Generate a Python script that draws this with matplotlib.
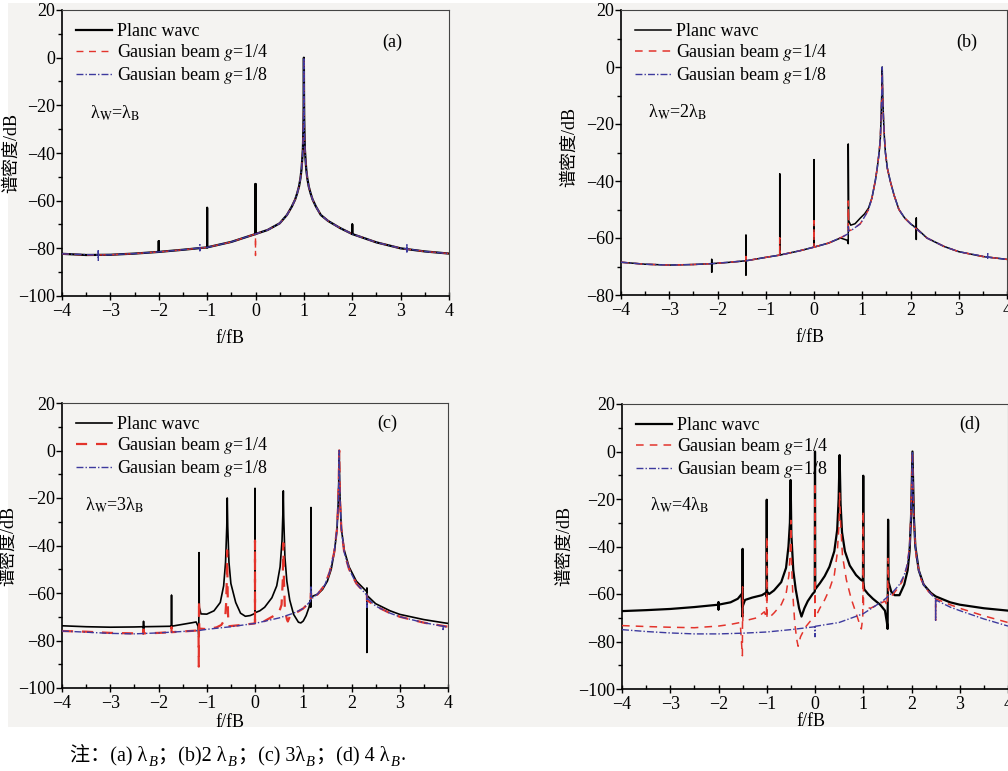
import matplotlib.pyplot as plt
import numpy as np
from matplotlib.patches import Rectangle
from matplotlib.ticker import MultipleLocator

plt.rcParams['font.family'] = ['Liberation Serif', 'Noto Sans CJK SC']
plt.rcParams['mathtext.fontset'] = 'stix'

# ---------------- data (x = f/fB, y = dB) ----------------
# (a) lambda_w = lambda_B
a_plane = [(-4, -82.3), (-3.5, -82.8), (-3, -82.7), (-2.5, -82.2), (-2, -81.5), (-2, -77), (-2, -81.5),
           (-1.5, -80.6), (-1, -79.6), (-1, -63), (-1, -79.6), (-0.5, -77.3), (0, -74), (0, -53), (0, -74),
           (0.25, -72.3), (0.5, -69.5), (0.65, -66), (0.75, -62.5), (0.82, -59.5), (0.86, -57), (0.9, -54),
           (0.93, -50.5), (0.95, -47), (0.965, -43), (0.98, -38), (0.988, -31), (0.993, -25), (0.997, -15),
           (1.0, 0), (1.003, -15), (1.007, -25), (1.012, -31), (1.02, -38), (1.035, -43), (1.05, -47),
           (1.07, -50.5), (1.1, -54), (1.14, -57), (1.18, -59.5), (1.25, -62.5), (1.35, -66), (1.5, -68.5),
           (1.75, -71.5), (2, -74), (2, -70), (2, -74), (2.5, -77.5), (3, -80), (3.5, -81.3), (4, -82.2)]
a_g4 = [(-4, -82.3), (-3.5, -82.8), (-3, -82.7), (-2.5, -82.2), (-2, -81.5), (-1.5, -80.6), (-1, -79.6),
        (-0.5, -77.3), (0, -74), (0, -83), (0, -74), (0.25, -72.3), (0.5, -69.5), (0.65, -66), (0.75, -62.5),
        (0.82, -59.5), (0.86, -57), (0.9, -54), (0.93, -50.5), (0.95, -47), (0.965, -43), (0.98, -38),
        (0.988, -31), (0.993, -25), (0.997, -15), (1.0, 0), (1.003, -15), (1.007, -25), (1.012, -31),
        (1.02, -38), (1.035, -43), (1.05, -47), (1.07, -50.5), (1.1, -54), (1.14, -57), (1.18, -59.5),
        (1.25, -62.5), (1.35, -66), (1.5, -68.5), (1.75, -71.5), (2, -74), (2.5, -77.5), (3, -80),
        (3.5, -81.3), (4, -82.2)]
a_g8 = [(-4, -82.3), (-3.25, -82.8), (-3.25, -81), (-3.25, -85), (-3.25, -82.8), (-3, -82.7), (-2.5, -82.2),
        (-2, -81.5), (-1.5, -80.6), (-1.15, -79.8), (-1.15, -78.5), (-1.15, -81), (-1.15, -79.8), (-1, -79.6),
        (-0.5, -77.3), (0, -74), (0.25, -72.3), (0.5, -69.5), (0.65, -66), (0.75, -62.5), (0.82, -59.5),
        (0.86, -57), (0.9, -54), (0.93, -50.5), (0.95, -47), (0.965, -43), (0.98, -38), (0.988, -31),
        (0.993, -25), (0.997, -15), (1.0, 0), (1.003, -15), (1.007, -25), (1.012, -31), (1.02, -38),
        (1.035, -43), (1.05, -47), (1.07, -50.5), (1.1, -54), (1.14, -57), (1.18, -59.5), (1.25, -62.5),
        (1.35, -66), (1.5, -68.5), (1.75, -71.5), (2, -74), (2.5, -77.5), (3, -80), (3.13, -80.2),
        (3.13, -78), (3.13, -81.5), (3.13, -80.2), (3.5, -81.3), (4, -82.2)]

# (b) lambda_w = 2 lambda_B
b_plane = [(-4, -68.5), (-3.5, -69.2), (-3, -69.5), (-2.5, -69.3), (-2.12, -69.0), (-2.12, -67.5),
           (-2.12, -72), (-2.12, -69.0), (-1.8, -68.6), (-1.41, -68), (-1.41, -59), (-1.41, -73),
           (-1.41, -68), (-1.0, -66.8), (-0.71, -66), (-0.71, -37.5), (-0.71, -66), (-0.3, -64.5),
           (0, -63.2), (0, -32.5), (0, -63.2), (0.3, -61.8), (0.55, -60), (0.69, -60.8), (0.71, -62),
           (0.71, -27), (0.72, -54), (0.76, -55.5), (0.85, -55), (0.96, -53), (1.05, -51.5), (1.13, -49.5),
           (1.2, -46), (1.27, -40), (1.31, -35.5), (1.35, -30), (1.375, -25), (1.39, -18), (1.405, -9),
           (1.414, 0), (1.423, -9), (1.44, -18), (1.46, -25), (1.48, -30), (1.52, -35.5), (1.58, -40),
           (1.66, -45), (1.76, -50), (1.88, -53), (2.0, -55), (2.12, -56.5), (2.12, -53), (2.12, -60.5),
           (2.12, -56.5), (2.34, -60), (2.7, -63), (3, -64.8), (3.5, -66.5), (4, -67.5)]
b_g4 = [(-4, -68.5), (-3.5, -69.2), (-3, -69.5), (-2.5, -69.3), (-2.12, -69), (-1.41, -68), (-1.41, -66.5),
        (-1.41, -68), (-1, -66.8), (-0.71, -66), (-0.71, -60), (-0.71, -66), (-0.3, -64.5), (0, -63.2),
        (0, -54), (0, -63.2), (0.3, -61.8), (0.6, -59.5), (0.71, -58.5), (0.71, -47), (0.72, -57.5),
        (0.8, -57), (0.96, -55), (1.05, -52.5), (1.13, -50), (1.2, -46), (1.27, -40), (1.31, -35.5),
        (1.35, -30), (1.375, -25), (1.39, -18), (1.405, -10), (1.414, -3), (1.423, -10), (1.44, -18),
        (1.46, -25), (1.48, -30), (1.52, -35.5), (1.58, -40), (1.66, -45), (1.76, -50), (1.88, -53),
        (2, -55), (2.34, -60), (2.7, -63), (3, -64.8), (3.5, -66.5), (4, -67.5)]
b_g8 = [(-4, -68.5), (-3.5, -69.2), (-3, -69.5), (-2.5, -69.3), (-2.12, -69), (-1.41, -68), (-1, -66.8),
        (-0.71, -66), (-0.3, -64.5), (0, -63.2), (0.3, -61.8), (0.6, -59.5), (0.71, -58.5), (0.71, -56),
        (0.72, -57.5), (0.8, -57), (0.96, -55), (1.05, -52.5), (1.13, -50), (1.2, -46), (1.27, -40),
        (1.31, -35.5), (1.35, -30), (1.375, -25), (1.39, -18), (1.405, -9), (1.414, 0), (1.423, -9),
        (1.44, -18), (1.46, -25), (1.48, -30), (1.52, -35.5), (1.58, -40), (1.66, -45), (1.76, -50),
        (1.88, -53), (2, -55), (2.34, -60), (2.7, -63), (3, -64.8), (3.6, -66.7), (3.6, -65.5),
        (3.6, -67.5), (3.6, -66.7), (4, -67.5)]

# (c) lambda_w = 3 lambda_B
c_plane = [(-4, -73.8), (-3.5, -74.2), (-3, -74.4), (-2.5, -74.3), (-2.31, -74.2), (-2.31, -72),
           (-2.31, -77), (-2.31, -74.2), (-2, -74.1), (-1.73, -74.0), (-1.73, -61), (-1.73, -74.0),
           (-1.5, -73.2), (-1.3, -72.5), (-1.22, -72.2), (-1.18, -74), (-1.165, -78.5), (-1.16, -43),
           (-1.155, -66), (-1.12, -68.8), (-1.0, -68.9), (-0.85, -67.5), (-0.72, -64), (-0.65, -57),
           (-0.61, -47), (-0.585, -32), (-0.575, -20), (-0.565, -32), (-0.54, -47), (-0.5, -56),
           (-0.4, -64), (-0.3, -68.5), (-0.2, -69.8), (-0.1, -69.5), (-0.02, -68.8), (0, -68.5), (0, -16),
           (0, -68.3), (0.1, -67.5), (0.2, -66), (0.35, -62), (0.45, -57), (0.52, -49), (0.56, -38),
           (0.58, -25), (0.587, -17), (0.595, -28), (0.62, -45), (0.66, -55), (0.72, -63), (0.8, -69),
           (0.9, -72.3), (0.95, -72.6), (1.0, -71.8), (1.06, -69.5), (1.12, -66), (1.15, -63),
           (1.155, -66), (1.16, -24), (1.165, -62), (1.2, -61.3), (1.3, -60.5), (1.4, -58.5), (1.5, -55),
           (1.58, -50), (1.65, -42), (1.7, -33), (1.725, -22), (1.737, -12), (1.745, 0), (1.753, -12),
           (1.765, -22), (1.79, -33), (1.85, -42), (1.95, -49), (2.1, -55), (2.32, -59.5), (2.32, -58),
           (2.32, -85), (2.32, -61), (2.5, -64.5), (2.8, -67.5), (3.0, -69), (3.5, -71.2), (3.9, -72.5),
           (4.0, -72.8)]
c_g4 = [(-4, -76), (-3.5, -76.3), (-3, -76.8), (-2.5, -77), (-2.31, -77), (-2.31, -75.5), (-2.31, -77),
        (-2, -76.8), (-1.73, -76.5), (-1.73, -74.5), (-1.73, -76.5), (-1.5, -76.2), (-1.2, -75.8),
        (-1.17, -75.5), (-1.165, -91), (-1.16, -63), (-1.155, -75), (-1.0, -75.2), (-0.8, -74.5),
        (-0.7, -73.5), (-0.62, -71), (-0.6, -65), (-0.585, -55), (-0.578, -42), (-0.57, -55), (-0.56, -68),
        (-0.55, -74), (-0.3, -73.5), (0, -72.8), (0, -38), (0, -72.5), (0.2, -71.8), (0.4, -69.5),
        (0.5, -68), (0.55, -65), (0.575, -55), (0.587, -39), (0.6, -55), (0.62, -67), (0.66, -71),
        (0.68, -72), (0.72, -70), (0.8, -69), (1.0, -66.5), (1.15, -63.5), (1.16, -60), (1.17, -63),
        (1.3, -60.5), (1.45, -56.5), (1.55, -51), (1.64, -43), (1.7, -33), (1.725, -22), (1.737, -12),
        (1.745, 0), (1.753, -12), (1.765, -22), (1.79, -33), (1.85, -43), (1.95, -50), (2.1, -56),
        (2.32, -61), (2.32, -63), (2.5, -65.5), (2.8, -68.5), (3.0, -70), (3.5, -72.5), (4, -74.2)]
c_g8 = [(-4, -76), (-3, -77), (-2.5, -77.2), (-2, -76.8), (-1.5, -76.2), (-1.16, -75.8), (-1, -75.3),
        (-0.5, -74.2), (0, -72.8), (0.5, -70.5), (0.8, -68.5), (1.0, -66.5), (1.15, -63.5), (1.16, -57),
        (1.17, -62.5), (1.3, -60.3), (1.45, -56.5), (1.55, -51), (1.64, -43), (1.7, -33), (1.725, -22),
        (1.737, -12), (1.745, 0), (1.753, -12), (1.765, -22), (1.79, -33), (1.85, -43), (1.95, -50),
        (2.1, -56), (2.32, -61), (2.32, -66), (2.32, -62), (2.5, -65.5), (2.8, -68.5), (3, -70),
        (3.5, -72.5), (3.9, -74), (3.9, -76), (3.9, -74), (4, -74.5)]

# (d) lambda_w = 4 lambda_B
d_plane = [(-4, -67.2), (-3.5, -66.8), (-3, -66.3), (-2.5, -65.5), (-2.0, -64.5), (-2.0, -63.5), (-2.0, -66.5),
           (-2.0, -64.5), (-1.75, -63.5), (-1.6, -62), (-1.52, -60), (-1.505, -69.5), (-1.5, -41),
           (-1.495, -65), (-1.45, -62.5), (-1.3, -61.5), (-1.1, -60.5), (-1.02, -59.5), (-1.005, -61),
           (-1.0, -20.3), (-0.995, -59), (-0.95, -60), (-0.85, -58.5), (-0.7, -55), (-0.6, -49),
           (-0.55, -40), (-0.52, -30), (-0.505, -12), (-0.49, -35), (-0.45, -50), (-0.4, -58),
           (-0.33, -66), (-0.28, -69.5), (-0.22, -66), (-0.15, -63), (-0.05, -60), (-0.005, -59), (0, 0),
           (0.005, -58), (0.1, -55.5), (0.2, -52.5), (0.3, -48.5), (0.4, -42), (0.46, -33), (0.49, -20),
           (0.51, -1.5), (0.53, -22), (0.56, -34), (0.62, -42), (0.72, -48), (0.85, -52), (0.95, -54),
           (0.99, -54.5), (0.995, -52), (1.0, -10.2), (1.005, -55), (1.02, -58), (1.1, -60), (1.2, -62),
           (1.35, -64.5), (1.45, -67), (1.49, -72), (1.505, -74.7), (1.515, -28.7), (1.525, -55),
           (1.58, -59), (1.65, -60.5), (1.75, -60.5), (1.85, -56), (1.92, -50), (1.96, -42), (1.99, -28),
           (2.02, 0), (2.05, -28), (2.08, -40), (2.15, -50), (2.25, -56), (2.4, -59.5), (2.5, -61),
           (2.8, -63.5), (3.0, -64.5), (3.5, -66), (4.0, -67)]
d_g4 = [(-4, -73.3), (-3.5, -73.7), (-3, -74), (-2.5, -74.2), (-2, -73.5), (-1.75, -72.8), (-1.55, -72),
        (-1.505, -86), (-1.5, -57), (-1.495, -71.5), (-1.4, -71), (-1.2, -70), (-1.05, -67.5),
        (-1.005, -70), (-1.0, -35.7), (-0.995, -70), (-0.95, -70), (-0.85, -68), (-0.7, -64.5),
        (-0.6, -60), (-0.54, -52), (-0.51, -40), (-0.5, -29), (-0.49, -45), (-0.46, -60), (-0.42, -72),
        (-0.38, -79), (-0.35, -82), (-0.3, -78), (-0.2, -74), (-0.1, -71.5), (-0.005, -70), (0, -13),
        (0.005, -70), (0.1, -66), (0.2, -62.5), (0.3, -58), (0.4, -52), (0.46, -43), (0.5, -30),
        (0.51, -17.5), (0.53, -30), (0.57, -44), (0.65, -54), (0.75, -62), (0.85, -68), (0.93, -73),
        (0.96, -74.7), (0.99, -70), (1.0, -25), (1.005, -65), (1.05, -65.5), (1.15, -66), (1.3, -64.5),
        (1.45, -63), (1.5, -65), (1.515, -45), (1.525, -60), (1.6, -60.5), (1.7, -58), (1.8, -55),
        (1.9, -49), (1.96, -40), (1.99, -25), (2.02, 0), (2.05, -30), (2.1, -45), (2.2, -54),
        (2.35, -59), (2.5, -61.5), (2.5, -71), (2.5, -62), (2.8, -64.5), (3.0, -66), (3.5, -69.2),
        (4.0, -72)]
d_g8 = [(-4, -75), (-3.5, -75.8), (-3, -76.4), (-2.5, -76.8), (-2, -76.8), (-1.5, -76.5), (-1, -76),
        (-0.5, -75), (-0.005, -73.8), (0, -78), (0.005, -73.6), (0.5, -72), (1.0, -68.3), (1.4, -63),
        (1.6, -59.5), (1.75, -56), (1.85, -52), (1.92, -47), (1.97, -38), (2.0, -20), (2.02, 0),
        (2.04, -25), (2.08, -40), (2.15, -50), (2.25, -56), (2.4, -60), (2.5, -62), (2.5, -71),
        (2.5, -62.5), (2.8, -65.5), (3.0, -67), (3.5, -70.5), (4.0, -73.5)]

labels = ['Planc wavc', 'Gausian beam $g$=1/4', 'Gausian beam $g$=1/8']
panel_tags = ['(a)', '(b)', '(c)', '(d)']
ratio_texts = [r'λ$_\mathrm{W}$=λ$_\mathrm{B}$', r'λ$_\mathrm{W}$=2λ$_\mathrm{B}$',
               r'λ$_\mathrm{W}$=3λ$_\mathrm{B}$', r'λ$_\mathrm{W}$=4λ$_\mathrm{B}$']
y_limits = [(-100, 20), (-80, 20), (-100, 20), (-100, 20)]
# caption pieces: (text, is_subscript)
caption_parts = [('注：(a) λ', False), ('B', True), ('；(b)2 λ', False), ('B', True),
                 ('；(c) 3λ', False), ('B', True), ('；(d) 4 λ', False), ('B', True), ('.', False)]

# ---------------- figure ----------------
W, H = 1008, 771
fig = plt.figure(figsize=(W / 100, H / 100), dpi=100)
fig.patch.set_facecolor('white')
fig.patches.append(Rectangle((8 / W, 1 - 727 / H), 1000 / W, 724 / H,
                             transform=fig.transFigure, facecolor='#f4f3f1', edgecolor='none', zorder=-5))

# [left, top, right, bottom] in pixels
boxes = [(62, 10, 449, 296), (621, 10, 1007, 295), (62, 403, 448, 688), (622, 404, 1008, 689)]
xlab_pos = [(0.434, -0.118), (0.49, -0.118), (0.434, -0.09), (0.49, -0.085)]
ylab_pos = [(-0.108, 0.5), (-0.111, 0.52), (-0.116, 0.5), (-0.127, 0.5)]
tag_pos = [(0.853, 0.888), (0.897, 0.888), (0.842, 0.93), (0.9, 0.93)]
ratio_pos = [(0.072, 0.64), (0.07, 0.64), (0.06, 0.642), (0.072, 0.645)]
plane_lw = [1.6, 1.1, 1.2, 1.6]
g4_lw = [1.0, 1.1, 1.6, 1.1]

series = [(a_plane, a_g4, a_g8), (b_plane, b_g4, b_g8), (c_plane, c_g4, c_g8), (d_plane, d_g4, d_g8)]

for i, (plane, g4, g8) in enumerate(series):
    l, t, r, b = boxes[i]
    ax = fig.add_axes([l / W, 1 - b / H, (r - l) / W, (b - t) / H])
    ax.set_facecolor('none')
    p = np.array(plane)
    q = np.array(g4)
    s = np.array(g8)
    ax.plot(p[:, 0], p[:, 1], color='black', lw=plane_lw[i], label=labels[0], zorder=3)
    ax.plot(q[:, 0], q[:, 1], color='#e3342c', lw=g4_lw[i], ls=(0, (5, 4)), label=labels[1], zorder=4)
    ax.plot(s[:, 0], s[:, 1], color='#3d3a9e', lw=1.0, ls=(0, (5, 1.5, 1, 1.5)), label=labels[2], zorder=5)

    ax.set_xlim(-4, 4)
    ax.set_ylim(*y_limits[i])
    ax.xaxis.set_major_locator(MultipleLocator(1))
    ax.xaxis.set_minor_locator(MultipleLocator(0.5))
    ax.yaxis.set_major_locator(MultipleLocator(20))
    ax.yaxis.set_minor_locator(MultipleLocator(10))
    ax.tick_params(axis='x', which='major', direction='inout', length=6, width=1, labelsize=13, pad=2)
    ax.tick_params(axis='x', which='minor', direction='in', length=3, width=1)
    ax.tick_params(axis='y', which='major', direction='out', length=4, width=1, labelsize=13, pad=1)
    ax.tick_params(axis='y', which='minor', direction='out', length=3, width=1)
    for side in ['left', 'bottom']:
        ax.spines[side].set_linewidth(1.2)
        ax.spines[side].set_color('black')
    ax.spines['top'].set_color('#444444')
    ax.spines['right'].set_color('#444444')

    ax.set_xlabel('f/fB', fontsize=13)
    ax.set_ylabel('谱密度/dB', fontsize=13)
    ax.xaxis.set_label_coords(*xlab_pos[i])
    ax.yaxis.set_label_coords(*ylab_pos[i])

    ax.text(*tag_pos[i], panel_tags[i], transform=ax.transAxes, fontsize=13, ha='center', va='center')
    ax.text(*ratio_pos[i], ratio_texts[i], transform=ax.transAxes, fontsize=13, ha='left', va='center')

    ax.legend(loc='upper left', bbox_to_anchor=(0.035, 0.955), frameon=False, fontsize=13,
              handlelength=2.0, handletextpad=0.3, labelspacing=0.12, borderpad=0, borderaxespad=0)

# caption, chained piece by piece so the CJK fallback works and B can be a subscript
prev = fig.text(70 / W, 1 - 765 / H, caption_parts[0][0], fontsize=14.5, ha='left', va='bottom')
prev_sub = False
for txt, sub in caption_parts[1:]:
    if sub:
        dy, size, style = -3, 10.5, 'italic'
    else:
        dy, size, style = (3 if prev_sub else 0), 14.5, 'normal'
    prev = ax.annotate(txt, xy=(1, 0), xycoords=prev, xytext=(0.8, dy), textcoords='offset points',
                       fontsize=size, style=style, ha='left', va='bottom', annotation_clip=False)
    prev_sub = sub

fig.savefig('out.png', dpi=100, facecolor=fig.get_facecolor())
